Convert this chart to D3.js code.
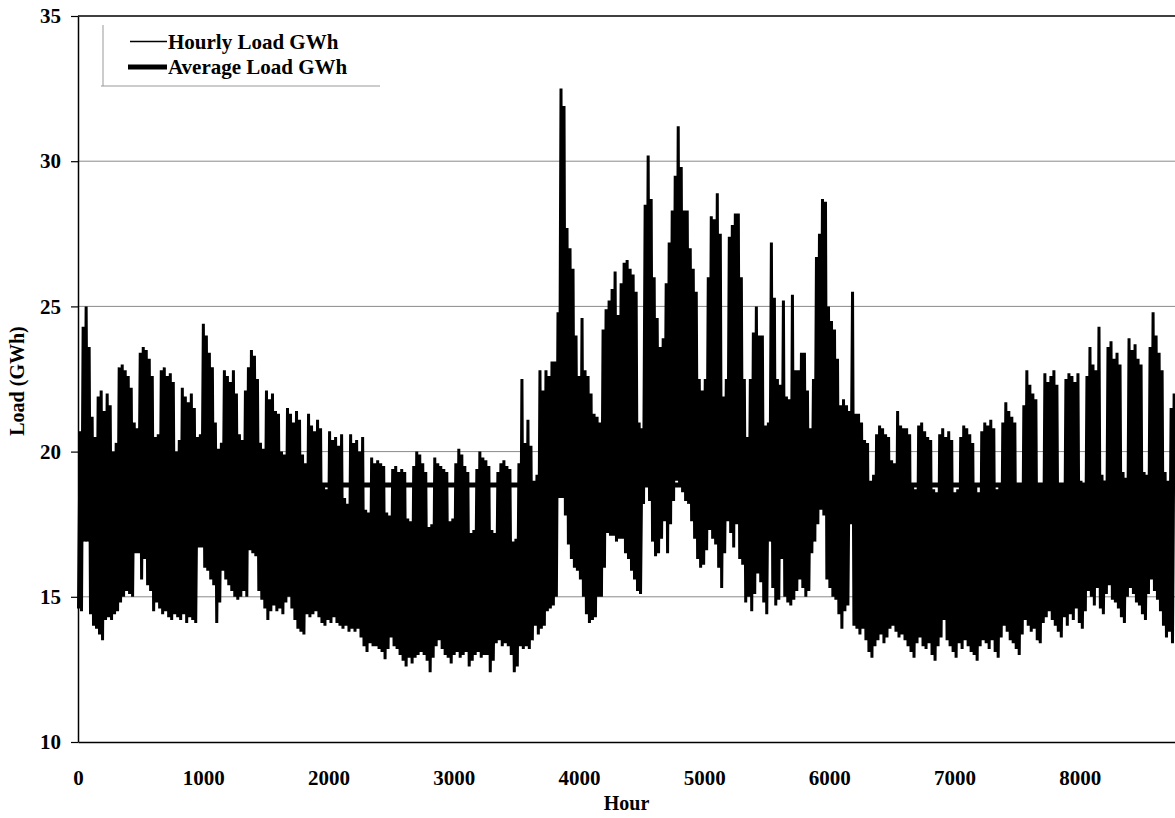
<!DOCTYPE html>
<html><head><meta charset="utf-8">
<script src="https://cdn.jsdelivr.net/npm/d3@7"></script>
<style>
html,body{margin:0;padding:0;background:#fff;}
svg{display:block;}
text{font-family:"Liberation Serif","Times New Roman",serif;font-weight:bold;fill:#000;}
</style></head><body>
<svg id="chart" width="1175" height="818"></svg>
<script>
// Daily peak of the hourly load (GWh), one value per day (365 days)
const dailyPeak = [
20.7,24.3,25.0,23.6,21.2,20.5,21.9,
22.1,21.4,22.0,21.6,20.0,20.3,22.9,
23.0,22.8,22.6,22.2,21.0,20.8,23.4,
23.6,23.5,23.2,22.6,20.5,20.6,22.8,
22.9,22.6,22.7,22.4,20.0,20.4,22.2,
21.9,21.7,22.0,21.5,20.5,20.6,24.4,
24.0,23.4,22.9,21.0,20.1,20.3,22.8,
22.6,22.4,22.8,22.0,20.6,20.4,22.1,
22.9,23.5,23.3,22.5,20.3,20.1,22.1,
21.8,22.0,21.4,21.3,20.0,19.9,21.5,
21.3,21.0,21.4,21.1,19.9,19.6,21.3,
20.9,20.7,21.1,20.8,18.8,18.7,20.7,
20.4,20.5,20.2,20.6,18.4,18.2,20.6,
20.3,20.4,20.0,20.5,18.0,17.9,19.8,
19.6,19.7,19.6,19.5,17.9,17.8,19.4,
19.5,19.3,19.4,19.3,17.7,17.6,19.5,
20.0,19.9,19.6,19.3,17.4,17.5,19.8,
19.6,19.5,19.4,19.3,17.6,17.7,19.6,
20.1,19.9,19.5,19.3,17.2,17.3,19.4,
20.0,19.8,19.7,19.5,17.3,17.2,19.3,
19.6,19.7,19.5,19.4,16.9,17.0,19.6,
22.5,20.3,21.1,20.2,19.0,19.2,22.8,
22.1,22.8,22.6,23.1,23.1,24.8,32.5,
31.9,27.7,27.0,26.3,24.0,22.6,24.6,
22.8,22.6,22.0,21.3,21.2,21.0,24.2,
24.9,25.2,25.6,26.2,24.7,25.8,26.5,
26.6,26.3,26.1,25.5,21.0,20.8,28.5,
30.2,28.7,26.0,24.6,23.6,23.9,25.8,
27.2,28.3,29.5,31.2,29.8,28.3,28.3,
27.0,26.3,25.5,22.5,22.1,22.5,26.0,
28.1,28.0,28.9,27.5,21.9,22.5,27.4,
27.8,28.2,28.2,26.0,22.5,20.5,22.5,
24.1,25.0,24.0,24.0,20.9,21.0,27.2,
25.3,22.5,22.3,25.2,21.9,21.8,25.4,
22.8,22.8,23.4,23.4,22.1,20.8,22.5,
26.7,27.5,28.7,28.6,25.0,24.5,24.2,
23.2,21.6,21.8,21.6,21.4,25.5,21.3,
21.3,21.0,20.4,20.3,19.0,19.2,20.6,
20.9,20.8,20.6,20.5,19.7,19.6,21.4,
20.9,20.8,20.8,20.6,18.8,18.7,20.9,
21.0,20.7,20.5,20.4,18.7,18.6,20.6,
20.8,20.5,20.7,20.4,18.6,18.7,20.5,
20.9,20.8,20.6,20.3,18.8,18.6,20.7,
21.0,20.9,21.1,20.8,18.7,18.8,21.0,
21.7,21.4,21.2,21.0,18.9,18.8,21.6,
22.8,22.3,22.0,21.8,18.9,18.8,22.7,
22.4,22.6,22.8,22.3,18.9,18.8,22.5,
22.7,22.6,22.4,22.7,19.0,18.9,22.6,
23.6,23.0,22.8,24.3,19.2,19.0,23.6,
23.8,23.2,23.4,23.0,19.3,19.1,23.9,
23.5,23.7,23.2,23.0,19.3,19.2,23.6,
24.8,24.0,23.4,22.8,19.3,19.0,21.5,
22.0
];
// Daily minimum of the hourly load (GWh), one value per day
const dailyTrough = [
14.6,14.5,16.9,16.9,14.4,14.0,13.9,
13.7,13.5,14.2,14.3,14.2,14.4,14.5,
14.8,15.0,15.2,15.1,15.0,16.5,16.5,
15.6,16.3,15.4,15.2,14.5,14.8,14.6,
14.4,14.5,14.3,14.2,14.4,14.3,14.2,
14.4,14.1,14.3,14.2,14.1,16.7,16.7,
16.0,15.9,15.6,15.4,14.1,14.8,15.9,
15.6,15.4,15.2,15.0,14.9,15.0,15.2,
15.0,16.6,16.5,16.4,15.2,14.9,14.6,
14.2,14.5,14.7,14.5,14.6,14.4,14.8,
15.0,14.6,14.2,13.9,13.8,13.7,14.4,
14.3,14.4,14.5,14.3,14.1,14.0,14.2,
14.1,14.3,14.1,14.0,13.9,14.0,13.8,
13.9,13.8,13.9,13.6,13.3,13.1,13.4,
13.3,13.3,13.2,13.1,12.85,13.2,13.6,
13.3,13.2,13.0,12.8,12.6,12.9,12.7,
12.9,13.0,13.1,13.0,12.8,12.4,12.9,
13.3,13.5,13.2,13.0,12.9,12.7,13.0,
13.1,12.9,13.0,13.1,12.6,12.8,13.0,
13.1,12.9,13.0,13.0,12.4,12.8,13.4,
13.5,13.3,13.4,13.3,13.0,12.4,12.6,
13.3,13.2,13.3,13.2,13.5,14.0,13.7,
13.9,14.0,14.5,14.6,14.7,15.0,18.4,
18.4,17.8,16.8,16.3,16.0,15.9,15.6,
15.0,14.4,14.1,14.2,14.3,15.0,15.0,
16.0,17.2,17.1,17.1,16.9,17.0,17.0,
16.5,16.3,15.9,15.6,15.2,15.1,18.2,
18.9,18.3,16.9,16.4,16.5,17.0,17.6,
16.5,17.5,18.3,19.0,18.9,18.6,18.3,
18.2,17.6,17.0,16.3,16.0,16.1,16.6,
17.3,17.0,16.8,16.0,15.3,16.5,17.6,
17.2,16.7,17.5,16.3,16.1,14.8,15.0,
14.5,15.1,15.8,15.5,14.8,14.4,16.9,
15.3,14.7,14.9,16.3,15.0,14.8,14.7,
14.9,15.2,15.6,15.3,15.0,15.2,16.5,
16.9,17.5,18.0,17.8,15.6,15.3,15.0,
14.9,14.4,13.9,14.5,14.7,17.5,14.0,
13.9,13.7,13.9,13.5,13.1,12.9,13.3,
13.5,13.7,13.4,13.6,13.9,14.0,13.8,
13.6,13.7,13.5,13.3,13.1,12.9,13.4,
13.6,13.3,13.2,13.4,13.0,12.8,13.3,
13.6,14.2,13.5,13.3,13.1,12.9,13.4,
13.2,13.5,13.3,13.1,13.0,12.8,13.3,
13.5,13.4,13.2,13.5,13.1,12.9,13.6,
14.0,13.8,13.5,13.4,13.2,13.0,13.7,
14.2,14.0,13.8,13.9,13.5,13.4,14.1,
14.3,14.5,14.2,14.0,13.8,13.6,14.3,
14.0,14.4,14.2,14.6,14.1,13.9,14.5,
15.2,15.0,14.7,15.3,14.6,14.4,15.1,
15.4,14.9,14.8,14.6,14.3,14.1,15.0,
15.3,15.1,14.8,14.7,14.4,14.2,15.1,
15.6,15.2,14.9,14.5,14.0,13.6,13.8,
13.4
];
const averageLoad = [18.85, 18.85];          // flat average over the year
const averageHours = [0, 8760];
const xTicks = [0,1000,2000,3000,4000,5000,6000,7000,8000];
const yTicks = [10,15,20,25,30,35];
const gridValues = [15,20,25,30];
const seriesNames = ["Hourly Load GWh","Average Load GWh"];
const troughHourOfDay = 4, peakHourOfDay = 17;

const svg = d3.select("#chart");
const x = d3.scaleLinear().domain([0,8760]).range([78,1175]);
const y = d3.scaleLinear().domain([10,35]).range([742,16]);

// gridlines
svg.append("g").selectAll("line").data(gridValues).join("line")
  .attr("x1",x(0)).attr("x2",x(8760))
  .attr("y1",d=>y(d)).attr("y2",d=>y(d))
  .attr("stroke","#8a8a8a").attr("stroke-width",1);

// top border
svg.append("line").attr("x1",x(0)).attr("x2",x(8760)).attr("y1",y(35)).attr("y2",y(35))
  .attr("stroke","#000").attr("stroke-width",1.5);

// hourly series built from the daily minimum and maximum
const pts = [];
dailyPeak.forEach((p,i)=>{
  pts.push([i*24+troughHourOfDay, dailyTrough[i]]);
  pts.push([i*24+peakHourOfDay, p]);
});
const line = d3.line().x(d=>x(d[0])).y(d=>y(d[1]));
svg.append("path").datum(pts).attr("d",line)
  .attr("fill","none").attr("stroke","#000").attr("stroke-width",3)
  .attr("stroke-linejoin","miter").attr("stroke-miterlimit",2);

// average load
svg.append("path").datum(averageHours.map((h,i)=>[h,averageLoad[i]])).attr("d",line)
  .attr("fill","none").attr("stroke","#000").attr("stroke-width",5);

// axes
const yAxis = svg.append("g").attr("transform",`translate(${x(0)},0)`)
  .call(d3.axisLeft(y).tickValues(yTicks).tickSize(7).tickSizeOuter(0).tickPadding(10).tickFormat(d3.format("d")));
yAxis.select(".domain").attr("stroke","#000").attr("stroke-width",1.5);
yAxis.selectAll(".tick line").attr("stroke","#000").attr("stroke-width",1.2);
yAxis.selectAll("text").style("font-size","21px").style("font-family","'Liberation Serif',serif").style("font-weight","bold");

const xAxis = svg.append("g").attr("transform",`translate(0,${y(10)})`)
  .call(d3.axisBottom(x).tickValues(xTicks).tickSize(0).tickSizeOuter(0).tickPadding(28).tickFormat(d3.format("d")));
xAxis.select(".domain").attr("stroke","#000").attr("stroke-width",1.5);
xAxis.selectAll("text").style("font-size","21px").style("font-family","'Liberation Serif',serif").style("font-weight","bold");

// axis titles
svg.append("text").attr("x",(x(0)+x(8760))/2).attr("y",810).attr("text-anchor","middle")
  .style("font-size","20px").text("Hour");
svg.append("text").attr("transform","translate(24,381) rotate(-90)").attr("text-anchor","middle")
  .style("font-size","20px").text("Load (GWh)");

// legend
const lg = svg.append("g");
lg.append("line").attr("x1",103).attr("x2",103).attr("y1",25).attr("y2",86).attr("stroke","#999").attr("stroke-width",1);
lg.append("line").attr("x1",101).attr("x2",380).attr("y1",86).attr("y2",86).attr("stroke","#999").attr("stroke-width",1);
const entries = [{w:1.4,y:41.5,x1:130},{w:5,y:67,x1:128}];
entries.forEach((e,i)=>{
  lg.append("line").attr("x1",e.x1).attr("x2",167).attr("y1",e.y).attr("y2",e.y).attr("stroke","#000").attr("stroke-width",e.w);
  lg.append("text").attr("x",168).attr("y",e.y+7).style("font-size","21px").text(seriesNames[i]);
});
</script>
</body></html>
